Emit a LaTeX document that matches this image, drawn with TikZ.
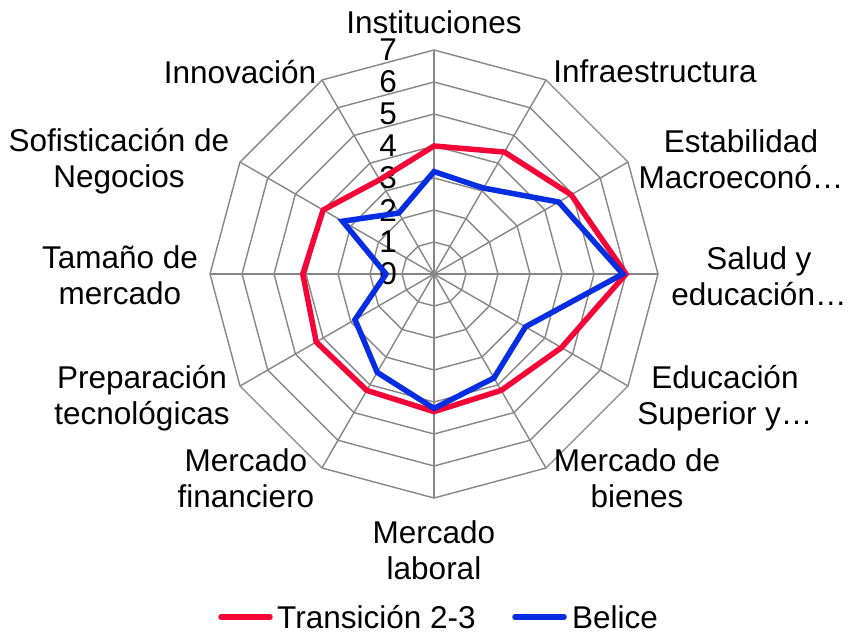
\documentclass[tikz,border=0pt]{standalone}
\usepackage{fontspec}
\setmainfont{Liberation Sans}
\usetikzlibrary{positioning}

\definecolor{serieroja}{RGB}{245,5,55}
\definecolor{serieazul}{RGB}{5,45,225}
\definecolor{gris}{RGB}{134,134,134}

\begin{document}
\begin{tikzpicture}[x=1pt,y=1pt]
		\tikzstyle{rejilla} = [draw=gris, line width=1.4pt]
		\tikzstyle{etiqueta} = [inner sep=0pt, anchor=north, align=center, font=\fontsize{31.5}{36}\selectfont]
		\tikzstyle{escala} = [inner sep=0pt, anchor=east, font=\fontsize{31.5}{36}\selectfont]
		\tikzstyle{leyenda} = [inner sep=0pt, anchor=west, font=\fontsize{31.5}{36}\selectfont]
		\tikzstyle{serie} = [line width=5.5pt, line join=miter]
		\useasboundingbox (-434,-359) rectangle (414,274);
		\coordinate (c) at (0,0);
		% rejilla del radar
		\foreach \r in {1,...,7}
			\draw[rejilla] (90:\r*32) \foreach \a in {60,30,...,-240} { -- (\a:\r*32) } -- cycle;
		\foreach \a in {90,60,...,-240}
			\draw[rejilla] (c) -- (\a:224);
		\foreach \v in {0,...,7}
			\node[escala] (e\v) at (-37,\v*32) {\v};
		% series
		\foreach \a/\v [count=\i] in {90/4.0,60/4.4,30/4.95,0/6.0,-30/4.6,-60/4.2,-90/4.3,-120/4.2,-150/4.25,180/4.1,150/4.0,120/3.4}
			\coordinate (t\i) at (\a:\v*32);
		\foreach \a/\v [count=\i] in {90/3.2,60/3.1,30/4.5,0/5.9,-30/3.3,-60/3.75,-90/4.2,-120/3.55,-150/2.85,180/1.5,150/3.3,120/2.2}
			\coordinate (b\i) at (\a:\v*32);
		\draw[serie, serieroja] (t1) -- (t2) -- (t3) -- (t4) -- (t5) -- (t6) -- (t7) -- (t8) -- (t9) -- (t10) -- (t11) -- (t12) -- cycle;
		\draw[serie, serieazul] (b1) -- (b2) -- (b3) -- (b4) -- (b5) -- (b6) -- (b7) -- (b8) -- (b9) -- (b10) -- (b11) -- (b12) -- cycle;
		% etiquetas de los ejes
		\node[etiqueta] (inst) at (0,264) {Instituciones};
		\node[etiqueta] (infra) at (221,214) {Infraestructura};
		\node[etiqueta] (estab) at (307,145) {Estabilidad\\Macroeconó…};
		\node[etiqueta] (salud) at (325,28) {Salud y\\educación…};
		\node[etiqueta] (edusup) at (291,-91) {Educación\\Superior y…};
		\node[etiqueta] (bienes) at (203,-174) {Mercado de\\bienes};
		\node[etiqueta] (laboral) at (0,-246) {Mercado\\laboral};
		\node[etiqueta] (financ) at (-188,-174) {Mercado\\financiero};
		\node[etiqueta] (prep) at (-292,-91) {Preparación\\tecnológicas};
		\node[etiqueta] (tamano) at (-314,29) {Tamaño de\\mercado};
		\node[etiqueta] (sofist) at (-315,146) {Sofisticación de\\Negocios};
		\node[etiqueta] (innov) at (-194,214) {Innovación};
		% leyenda
		\coordinate (la1) at (-213,-343);
		\coordinate (la2) at (-164,-343);
		\coordinate (lb1) at (81,-343);
		\coordinate (lb2) at (130,-343);
		\draw[serie, serieroja, line cap=round] (la1) -- (la2);
		\draw[serie, serieazul, line cap=round] (lb1) -- (lb2);
		\node[leyenda, right=7pt of la2] (lta) {Transición 2-3};
		\node[leyenda, right=8pt of lb2] (ltb) {Belice};
	\end{tikzpicture}
\end{document}
